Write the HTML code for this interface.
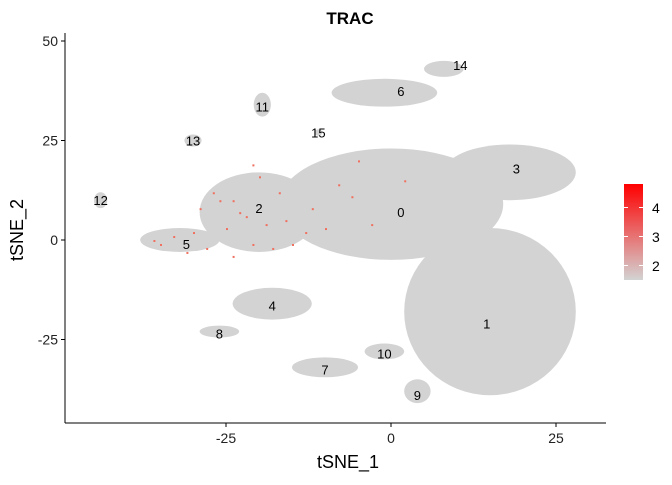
<!DOCTYPE html>
<html><head><meta charset="utf-8"><style>
body{margin:0;background:#fff;font-family:"Liberation Sans",sans-serif}
</style></head><body>
<svg id="c" width="672" height="480">
<defs><linearGradient id="g" x1="0" y1="1" x2="0" y2="0"><stop offset="0" stop-color="#d3d3d3"/><stop offset="1" stop-color="#ff0000"/></linearGradient></defs>
<text x="350" y="24" text-anchor="middle" font-size="17" font-weight="bold">TRAC</text>
<g id="plot"></g>
<line x1="65" y1="33" x2="65" y2="423" stroke="#000"/>
<line x1="65" y1="423" x2="606" y2="423" stroke="#000"/>
<g id="ax"></g>
<text x="348" y="468" text-anchor="middle" font-size="18">tSNE_1</text>
<text transform="translate(23,230) rotate(-90)" text-anchor="middle" font-size="18">tSNE_2</text>
<g>
<rect x="624" y="184" width="19" height="96" fill="url(#g)"/>
<g fill="#fff"><rect x="624" y="207" width="4" height="1"/><rect x="639" y="207" width="4" height="1"/><rect x="624" y="236" width="4" height="1"/><rect x="639" y="236" width="4" height="1"/><rect x="624" y="265" width="4" height="1"/><rect x="639" y="265" width="4" height="1"/></g>
<text x="652" y="213" font-size="14">4</text><text x="652" y="242" font-size="14">3</text><text x="652" y="271" font-size="14">2</text>
</g>
</svg>
<script>
const clusterIds=["0","1","2","3","4","5","6","7","8","9","10","11","12","13","14","15"];
const clusterX=[0,15,-20,18,-18,-32,-1,-10,-26,4,-1,-19.5,-44,-30,8,-11];
const clusterY=[9,-18,7,17,-16,0,37,-32,-23,-38,-28,34,10,25,43,27];
const clusterRX=[17,13,9,10,6,6,8,5,3,2,3,1.3,1,1.3,3,0.6];
const clusterRY=[14,21,10,7,4,3,3.5,2.5,1.5,3,2,3,2,1.5,2,0.8];
const labelX=[1.5,14.5,-20,19,-18,-31,1.5,-10,-26,4,-1,-19.5,-44,-30,10.5,-11];
const labelY=[7,-21,8,18,-16.5,-1,37.5,-32.5,-23.5,-39,-28.5,33.5,10,25,44,27];
const xTicks=[-25,0,25];const yTicks=[-25,0,25,50];
const sx=v=>391+v*6.6, sy=v=>240-v*3.98;
const NS="http://www.w3.org/2000/svg";
const plot=document.getElementById('plot'),ax=document.getElementById('ax');
function mk(t,a,p){const e=document.createElementNS(NS,t);for(const k in a)e.setAttribute(k,a[k]);p.appendChild(e);return e;}
clusterIds.forEach((id,i)=>{
 const e=mk('ellipse',{cx:sx(clusterX[i]),cy:sy(clusterY[i]),rx:clusterRX[i]*6.6,ry:clusterRY[i]*3.98,fill:'#d3d3d3'},plot);
 
 
});
const redX=[-24,-22,-19,-17,-25,-21,-33,-35,-30,-28,-15,-12,-8,-5,-20,-23,-26,-18,-31,-10,-27,-29,-36,-24,-21,-16,-13,-6,-3,2];
const redY=[10,6,4,12,3,-1,1,-1,2,-2,-1,8,14,20,16,7,10,-2,-3,3,12,8,0,-4,19,5,2,11,4,15];
redX.forEach((x,i)=>{
 const r=mk('rect',{x:sx(x),y:sy(redY[i]),width:2,height:2,fill:'#f07060'},plot);
 
 
});
clusterIds.forEach((id,i)=>{
 const t=mk('text',{x:sx(labelX[i]),y:sy(labelY[i])+5,'text-anchor':'middle','font-size':13},plot);t.textContent=id;
 
 
});
xTicks.forEach(v=>{
 mk('line',{x1:sx(v),x2:sx(v),y1:423,y2:427,stroke:'#000'},ax);
 const t=mk('text',{x:sx(v),y:443,'text-anchor':'middle','font-size':14,fill:'#222'},ax);t.textContent=v;
 
 
});
yTicks.forEach(v=>{
 mk('line',{x1:61,x2:65,y1:sy(v),y2:sy(v),stroke:'#000'},ax);
 const t=mk('text',{x:58,y:sy(v)+5,'text-anchor':'end','font-size':14,fill:'#222'},ax);t.textContent=v;
 
 
});
</script>
</body></html>
